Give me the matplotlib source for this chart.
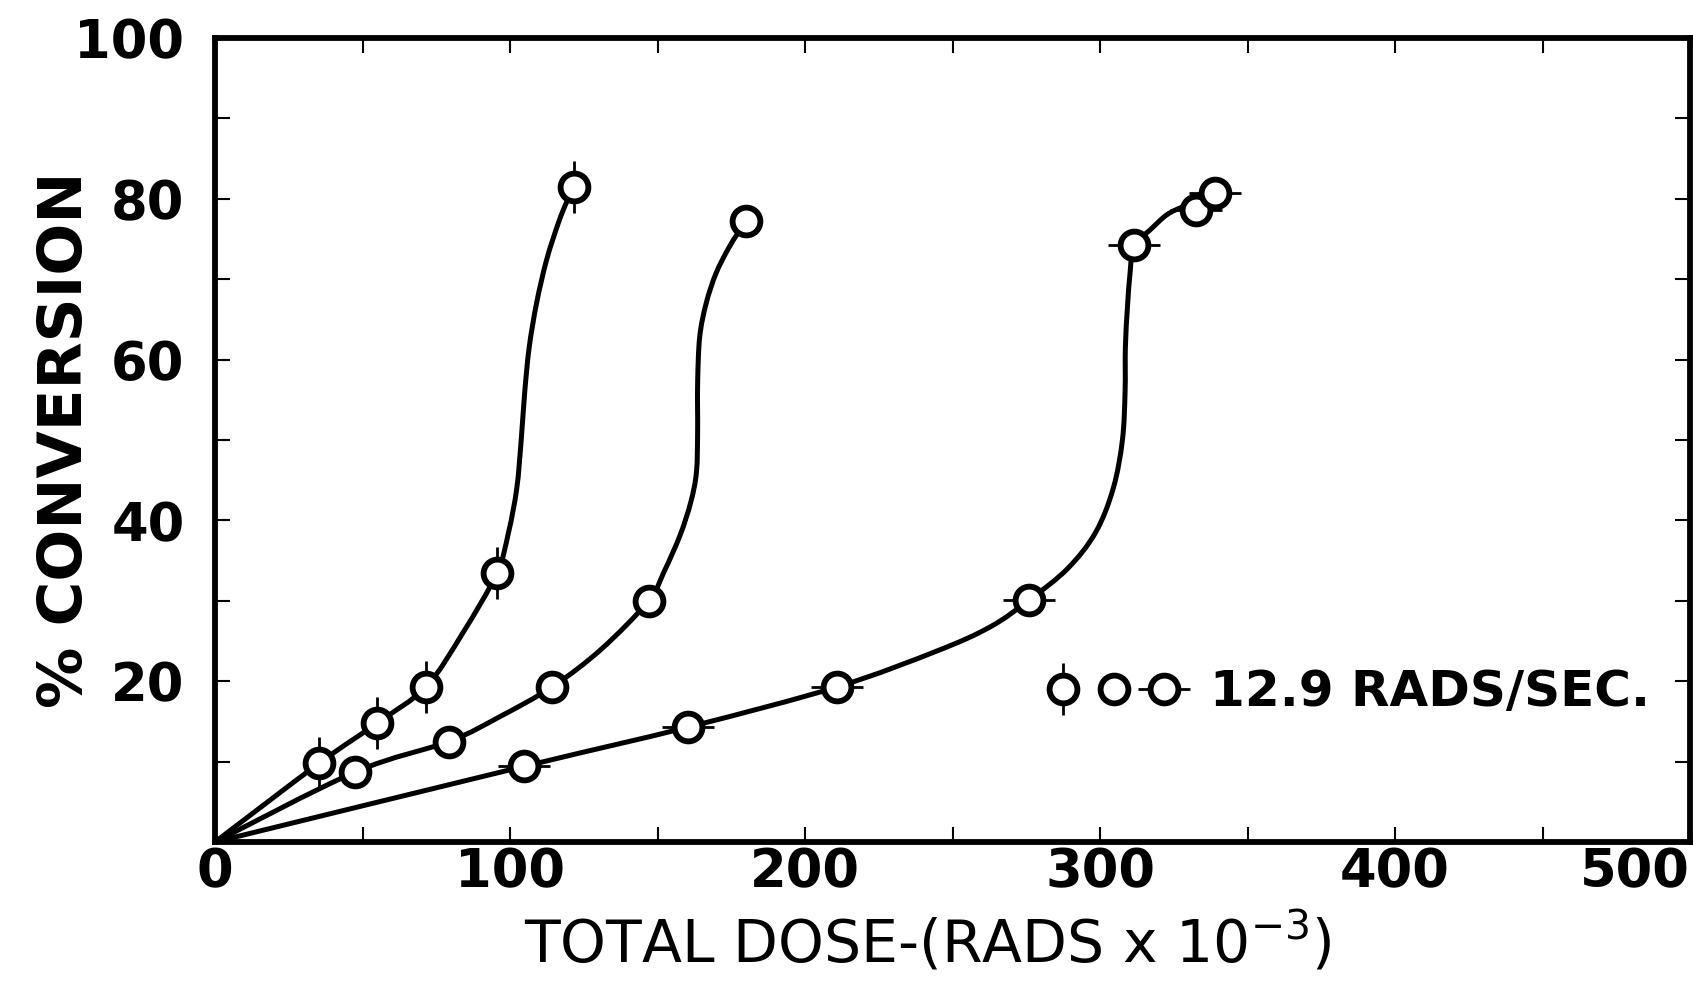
"""
% conversion vs total dose, three runs at 12.9 rads/sec
"""
import numpy as np
import matplotlib
matplotlib.use('Agg')
import matplotlib.pyplot as plt
from matplotlib.path import Path
from matplotlib.patches import PathPatch
from matplotlib.legend_handler import HandlerTuple

plt.rcParams['font.family'] = 'DejaVu Sans'
plt.rcParams['font.weight'] = 'bold'
plt.rcParams['mathtext.default'] = 'regular'

# measured points, dose in rads x 10^-3, conversion in %
dose_a = [35.3, 55.0, 71.5, 95.5, 121.7]
conv_a = [9.8, 14.8, 19.3, 33.4, 81.5]
dose_b = [47.5, 79.3, 114.3, 147.0, 180.0]
conv_b = [8.7, 12.5, 19.3, 30.0, 77.3]
dose_c = [104.7, 160.5, 211.0, 276.0, 311.5, 332.7, 339.0]
conv_c = [9.4, 14.3, 19.3, 30.1, 74.2, 78.6, 80.7]

# hand drawn curves
curve_a_x = [0, 35.3, 55.0, 71.5, 84.0, 95.5, 99.5, 102.3, 103.8, 105.0, 106.5, 109.0, 112.4, 116.4, 119.2, 121.7]
curve_a_y = [0, 9.8, 14.8, 19.3, 26.0, 33.4, 38.5, 44.0, 50.0, 56.0, 61.5, 67.0, 72.4, 77.0, 79.6, 81.5]
curve_b_x = [0, 47.5, 79.3, 96.6, 114.3, 131.0, 147.0, 152.2, 157.7, 161.3, 163.2, 163.6, 163.6, 164.3, 166.5, 169.8, 174.0, 177.2, 180.0]
curve_b_y = [0, 8.7, 12.5, 15.6, 19.3, 24.0, 30.0, 33.6, 38.2, 42.3, 46.0, 51.0, 57.0, 62.8, 67.0, 70.7, 73.8, 75.7, 77.3]
curve_c_x = [0, 104.7, 160.5, 211.0, 245.0, 263.0, 276.0, 289.0, 298.5, 304.5, 307.6, 308.5, 308.6, 309.3, 310.2, 311.5, 316.9, 322.6, 328.0, 333.5, 339.0]
curve_c_y = [0, 9.4, 14.3, 19.3, 23.8, 26.8, 30.1, 34.0, 38.5, 44.0, 50.0, 56.0, 61.5, 66.5, 70.8, 74.2, 76.1, 78.0, 79.0, 79.8, 80.7]

legend_label = '12.9 RADS/SEC.'


def smooth_path(xs, ys):
    # catmull-rom through the traced points, drawn as bezier segments
    p = np.column_stack([xs, ys]).astype(float)
    p = np.vstack([p[0], p, p[-1]])
    verts = [p[1]]
    codes = [Path.MOVETO]
    for i in range(1, len(p) - 2):
        c1 = p[i] + (p[i + 1] - p[i - 1]) / 6
        c2 = p[i + 1] - (p[i + 2] - p[i]) / 6
        verts += [c1, c2, p[i + 1]]
        codes += [Path.CURVE4] * 3
    return Path(verts, codes)


class Stack(tuple):
    pass


fig = plt.figure(figsize=(16.93, 9.82), dpi=100)
ax = fig.add_axes([215 / 1693, 1 - 842 / 982, 1475 / 1693, 804 / 982])

for cx, cy in [(curve_a_x, curve_a_y), (curve_b_x, curve_b_y), (curve_c_x, curve_c_y)]:
    ax.add_patch(PathPatch(smooth_path(cx, cy), fill=False, lw=3.6, ec='black',
                           capstyle='round', joinstyle='round', zorder=2))

circ = dict(ls='none', marker='o', ms=20, mfc='white', mec='black', mew=4.2, zorder=4)
tick_a, = ax.plot(dose_a, conv_a, ls='none', marker='|', ms=38, mew=2.0, color='black', zorder=3)
circ_a, = ax.plot(dose_a, conv_a, **circ)
circ_b, = ax.plot(dose_b, conv_b, **circ)
tick_c, = ax.plot(dose_c, conv_c, ls='none', marker='_', ms=38, mew=2.0, color='black', zorder=3)
circ_c, = ax.plot(dose_c, conv_c, **circ)

ax.legend([(Stack((tick_a, circ_a)), circ_b, Stack((tick_c, circ_c)))], [legend_label],
          handler_map={Stack: HandlerTuple(ndivide=1, pad=0), tuple: HandlerTuple(ndivide=None, pad=0)},
          loc='center left', bbox_to_anchor=(0.558, 0.186), frameon=False, fontsize=36,
          borderpad=0, borderaxespad=0, handlelength=3.03, handletextpad=0.4)

ax.set_xlim(0, 500)
ax.set_ylim(0, 100)
ax.set_xticks([0, 100, 200, 300, 400, 500])
ax.set_xticks([50, 150, 250, 350, 450], minor=True)
ax.set_yticks([20, 40, 60, 80, 100])
ax.set_yticks([10, 30, 50, 70, 90], minor=True)
ax.tick_params(which='both', direction='in', top=True, right=True, length=11, width=1.5, labelsize=38)
ax.tick_params(axis='x', pad=3)
ax.tick_params(axis='y', pad=22)
ax.get_xticklabels()[-1].set_ha('right')
for s in ax.spines.values():
    s.set_linewidth(4.2)

ax.set_xlabel('TOTAL DOSE-(RADS x 10$^{-3}$)', fontsize=42, fontweight='normal', labelpad=9)
ax.set_ylabel('% CONVERSION', fontsize=44, fontweight='bold')
ax.xaxis.label.set_x(0.483)
ax.yaxis.set_label_coords(-0.0814, 0.5)

fig.savefig('out.png', dpi=100)
